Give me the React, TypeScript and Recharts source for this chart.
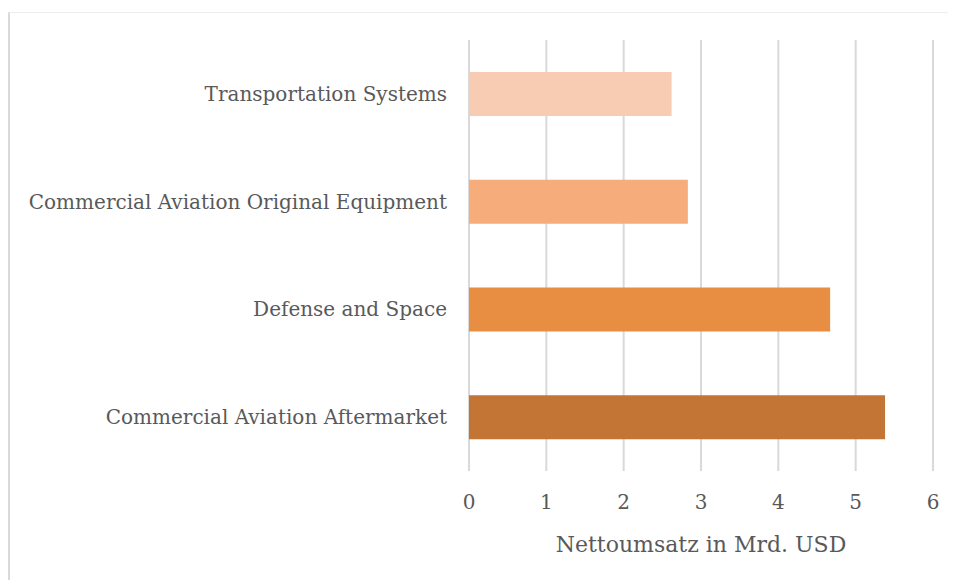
import { BarChart, Bar, XAxis, YAxis, CartesianGrid, Cell } from 'recharts'

const segments = [
  'Transportation Systems',
  'Commercial Aviation Original Equipment',
  'Defense and Space',
  'Commercial Aviation Aftermarket',
]
const revenue = [2.62, 2.83, 4.67, 5.38]
const barColors = ['#F8CBB3', '#F6AD7B', '#E88E43', '#C27535']
const xTicks = [0, 1, 2, 3, 4, 5, 6]

const data = segments.map((name, i) => ({ name, value: revenue[i] }))

const FONT = '"DejaVu Serif", serif'
const TEXT = '#595959'

export default function App() {
  return (
    <div
      style={{
        marginTop: 4,
        width: 946,
        height: 567,
        borderLeft: '2px solid #d9d9d9',
        borderTop: '1px solid #eeeeee',
        fontFamily: FONT,
      }}
    >
      <BarChart
        width={946}
        height={567}
        data={data}
        layout="vertical"
        margin={{ top: 27, right: 23, left: 0, bottom: 29 }}
      >
        <CartesianGrid horizontal={false} stroke="#d9d9d9" strokeWidth={2} />
        <XAxis
          type="number"
          domain={[0, 6]}
          ticks={xTicks}
          axisLine={false}
          tickLine={false}
          tickMargin={18}
          height={80}
          tick={{ fill: TEXT, fontSize: 20, fontFamily: FONT }}
          label={{
            value: 'Nettoumsatz in Mrd. USD',
            position: 'insideBottom',
            offset: -1,
            fill: TEXT,
            fontSize: 22,
            fontFamily: FONT,
          }}
        />
        <YAxis
          type="category"
          dataKey="name"
          width={459}
          axisLine={false}
          tickLine={false}
          tickMargin={16}
          interval={0}
          tick={{ fill: TEXT, fontSize: 20, fontFamily: FONT }}
        />
        <Bar dataKey="value" barSize={44} isAnimationActive={false}>
          {data.map((d, i) => (
            <Cell key={d.name} fill={barColors[i]} />
          ))}
        </Bar>
      </BarChart>
    </div>
  )
}
